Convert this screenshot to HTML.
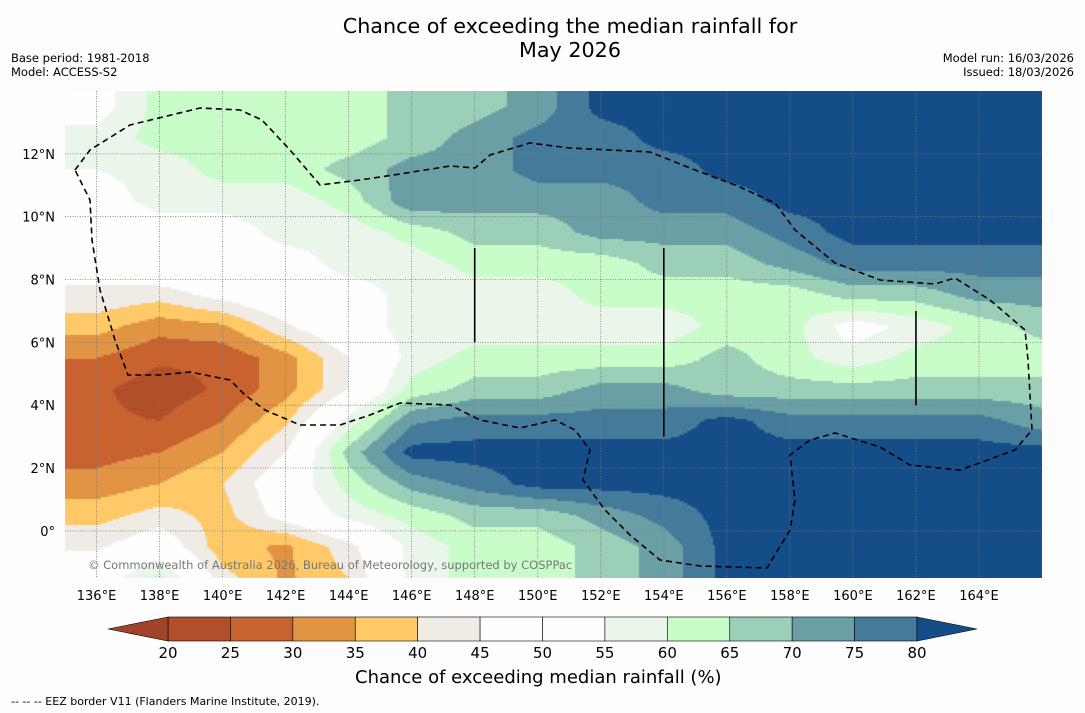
<!DOCTYPE html>
<html><head><meta charset="utf-8"><style>
body{margin:0;background:#fdfdfd;width:1085px;height:713px;overflow:hidden;font-family:"DejaVu Sans","Liberation Sans",sans-serif;position:relative}
.t{position:absolute;color:#000;white-space:nowrap}
</style></head><body>
<div class="t" style="left:0;width:1140px;top:14px;text-align:center;font-size:20.7px;line-height:24px">Chance of exceeding the median rainfall for<br>May 2026</div>
<div class="t" style="left:11px;top:51px;font-size:11.5px;line-height:14px">Base period: 1981-2018<br>Model: ACCESS-S2</div>
<div class="t" style="right:11px;top:51px;font-size:11.5px;line-height:14px;text-align:right">Model run: 16/03/2026<br>Issued: 18/03/2026</div>
<canvas id="map" width="977" height="487" style="position:absolute;left:65px;top:91px"></canvas>
<svg id="ov" width="1085" height="713" style="position:absolute;left:0;top:0;font-family:'DejaVu Sans','Liberation Sans',sans-serif"></svg>
<div class="t" style="left:88px;top:558px;font-size:11.5px;color:#777">© Commonwealth of Australia 2026, Bureau of Meteorology, supported by COSPPac</div>
<div class="t" style="left:355px;top:667px;font-size:18px">Chance of exceeding median rainfall (%)</div>
<div class="t" style="left:11px;top:695px;font-size:11px">--  --  -- EEZ border V11 (Flanders Marine Institute, 2019).</div>
<script>
const lonCenters=[136,138,140,142,144,146,148,150,152,154,156,158,160,162,164,166];
const latCenters=[13.5,12.5,11.5,10.5,9.5,8.5,7.5,6.5,5.5,4.5,3.5,2.5,1.5,0.5,-0.5,-1.5];
const grid=[
[52,62,62,62,62,67,68,72,82,82,82,82,82,82,82,82],
[57,62,62,62,62,67,72,77,77,82,82,82,82,82,82,82],
[55,57,62,62,67,72,72,77,77,77,82,82,82,82,82,82],
[52,57,57,57,62,74,72,72,72,77,77,82,82,82,82,82],
[47,52,52,57,57,62,67,67,72,72,72,77,82,82,82,82],
[47,52,52,52,57,57,62,62,62,67,67,72,77,77,77,77],
[44,42,47,52,52,57,57,57,62,62,62,62,67,67,72,72],
[37,32,34,44,52,57,57,57,57,57,62,62,52,57,62,67],
[30,26,26,33,45,57,62,62,62,62,67,62,57,62,62,62],
[26,22,26,33,45,62,67,67,72,72,67,67,67,67,67,67],
[26,25,30,39,57,74,77,77,77,77,82,77,77,77,77,72],
[28,30,35,45,67,82,82,82,82,82,82,82,82,82,82,82],
[32,35,40,50,62,72,77,82,82,82,82,82,82,82,82,82],
[38,42,38,48,57,62,67,67,72,77,82,82,82,82,82,82],
[44,50,37,34,43,57,62,62,67,72,82,82,82,82,82,82],
[50,62,42,34,40,57,62,62,67,72,82,82,82,82,82,82]];
const levels=[20,25,30,35,40,45,50,55,60,65,70,75,80];
const colors=["#a1432a","#b04f2a","#c8622f","#e09444","#fec966","#f0ebe5","#fefefe","#fefefe","#eaf6ea","#c8fcc8","#9bcfb8","#6a9fa6","#447b9b","#144d87"];
const lonTicks=[136,138,140,142,144,146,148,150,152,154,156,158,160,162,164];
const latTicks=[0,2,4,6,8,10,12];
const X0=65,Y0=91,W=977,H=487,LON0=135,LON1=166,LAT0=14,LAT1=-1.5;
const xOf=l=>X0+(l-LON0)/(LON1-LON0)*W, yOf=a=>Y0+(LAT0-a)/(LAT0-LAT1)*H;
function colorFor(v){let i=0;while(i<levels.length&&v>=levels[i])i++;return colors[i];}
function sample(lon,lat){
 let fx=(lon-lonCenters[0])/2, fy=(latCenters[0]-lat);
 fx=Math.max(0,Math.min(lonCenters.length-1.001,fx));fy=Math.max(0,Math.min(latCenters.length-1.001,fy));
 const i=Math.floor(fx),j=Math.floor(fy),tx=fx-i,ty=fy-j;
 const a=grid[j][i],b=grid[j][i+1],c=grid[j+1][i],d=grid[j+1][i+1];
 return a*(1-tx)*(1-ty)+b*tx*(1-ty)+c*(1-tx)*ty+d*tx*ty;}
const ctx=document.getElementById('map').getContext('2d');
const S=2;
for(let py=0;py<H;py+=S)for(let px=0;px<W;px+=S){
 const lon=LON0+(px+S/2)/W*(LON1-LON0),lat=LAT0-(py+S/2)/H*(LAT0-LAT1);
 ctx.fillStyle=colorFor(sample(lon,lat));ctx.fillRect(px,py,S,S);}
const NS='http://www.w3.org/2000/svg',ov=document.getElementById('ov');
function mk(t,at,par){const e=document.createElementNS(NS,t);for(const k in at)e.setAttribute(k,at[k]);(par||ov).appendChild(e);return e;}
lonTicks.forEach(l=>{const x=xOf(l);
 const g=mk('line',{x1:x,x2:x,y1:Y0,y2:Y0+H,stroke:'#777','stroke-width':0.8,'stroke-dasharray':'1,1.5'});
 
 const t=mk('text',{x:x,y:600,'font-size':13,'text-anchor':'middle'});t.textContent=l+'°E';
 });
latTicks.forEach(a=>{const y=yOf(a);
 const g=mk('line',{x1:X0,x2:X0+W,y1:y,y2:y,stroke:'#777','stroke-width':0.8,'stroke-dasharray':'1,1.5'});
 
 const t=mk('text',{x:55,y:y+5,'font-size':13,'text-anchor':'end'});t.textContent=a===0?'0°':a+'°N';
 });
const eez="75,170 90,150 130,125 200,108 240,110 262,120 290,150 320,185 360,180 400,174 450,166 475,168 490,155 530,143 570,148 610,150 650,152 690,168 735,185 775,203 795,230 835,263 880,280 935,284 955,278 990,300 1025,330 1028,360 1032,430 1015,450 960,470 910,465 880,447 835,433 810,440 790,455 795,500 790,530 767,568 700,566 660,560 630,535 605,510 583,480 590,450 575,430 555,420 520,428 480,420 450,405 400,403 370,415 340,425 300,425 265,410 245,395 230,380 190,372 160,375 128,375 115,340 100,290 92,240 90,200 75,170";
const e=mk('polyline',{points:eez,fill:'none',stroke:'#000','stroke-width':1.6,'stroke-dasharray':'6,4'});

[[148,9,6],[154,9,3],[162,7,4]].forEach(s=>{const l=mk('line',{x1:xOf(s[0]),x2:xOf(s[0]),y1:yOf(s[1]),y2:yOf(s[2]),stroke:'#000','stroke-width':1.6});
 });
const CB0=168,CB1=917,CBY=617,CBH=24,step=(CB1-CB0)/(levels.length-1);
for(let i=0;i<levels.length-1;i++){const r=mk('rect',{x:CB0+i*step,y:CBY,width:step,height:CBH,fill:colors[i+1],stroke:'#000','stroke-width':0.6});
 }
const la=mk('polygon',{points:`${CB0},${CBY} 108,${CBY+CBH/2} ${CB0},${CBY+CBH}`,fill:colors[0],stroke:'#000','stroke-width':0.6});

const ra=mk('polygon',{points:`${CB1},${CBY} 977,${CBY+CBH/2} ${CB1},${CBY+CBH}`,fill:colors[colors.length-1],stroke:'#000','stroke-width':0.6});

levels.forEach((v,i)=>{const t=mk('text',{x:CB0+i*step,y:658,'font-size':15,'text-anchor':'middle'});t.textContent=v;
 });
</script>
</body></html>
